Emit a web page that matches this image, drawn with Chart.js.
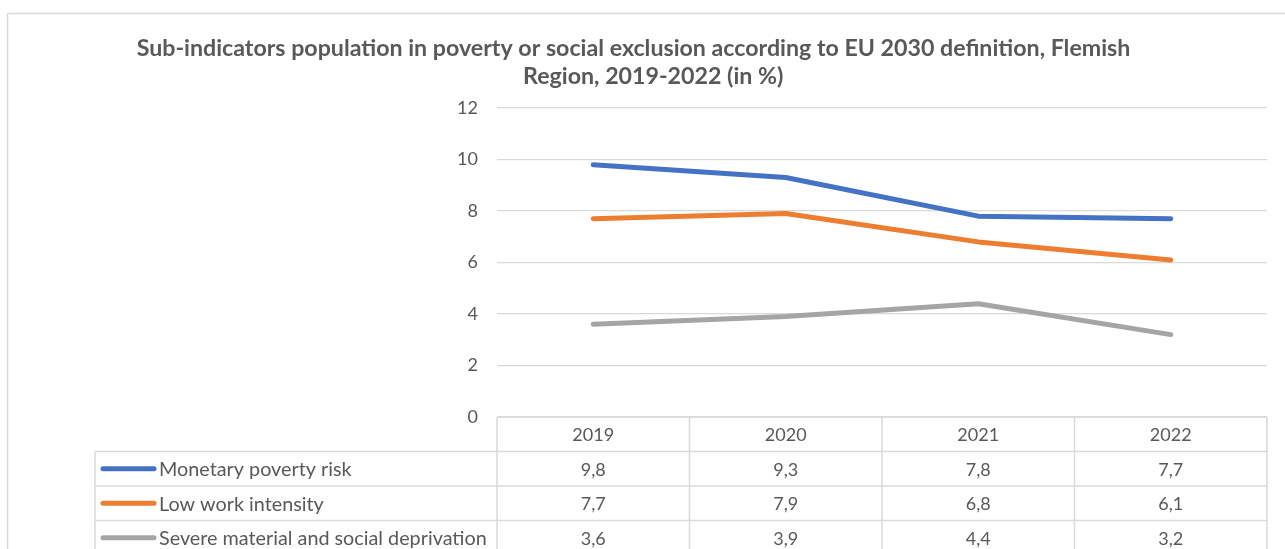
<!DOCTYPE html>
<html>
<head>
<meta charset="utf-8">
<script src="https://cdn.jsdelivr.net/npm/chart.js@4.4.1/dist/chart.umd.min.js"></script>
<style>
  html, body { margin: 0; padding: 0; background: #fff; }
  #wrap { width: 1285px; height: 549px; position: relative; }
</style>
</head>
<body>
<div id="wrap"><canvas id="chart"></canvas></div>
<script>
const years = ['2019', '2020', '2021', '2022'];
const monetaryPovertyRisk = [9.8, 9.3, 7.8, 7.7];
const lowWorkIntensity = [7.7, 7.9, 6.8, 6.1];
const severeDeprivation = [3.6, 3.9, 4.4, 3.2];
const seriesNames = ['Monetary poverty risk', 'Low work intensity', 'Severe material and social deprivation'];
const seriesColors = ['#4472C4', '#ED7D31', '#A5A5A5'];
const titleLines = [
  'Sub-indicators population in poverty or social exclusion according to EU 2030 definition, Flemish',
  '\u00a0\u00a0\u00a0\u00a0\u00a0\u00a0\u00a0Region, 2019-2022 (in %)'
];

const textColor = '#595959';
const lineColor = '#d9d9d9';
const fontFamily = 'Lato, "Open Sans", sans-serif';

function fmt(v) {
  return v.toFixed(1).replace('.', ',');
}

// outer frame of the chart object
const framePlugin = {
  id: 'frame',
  beforeDraw(chart) {
    const ctx = chart.ctx;
    ctx.save();
    ctx.strokeStyle = lineColor;
    ctx.lineWidth = 1.5;
    ctx.strokeRect(7.5, 13.5, chart.width + 20, chart.height + 20);
    ctx.restore();
  }
};

// data table under the plot, columns follow the x scale
const tablePlugin = {
  id: 'dataTable',
  afterDraw(chart) {
    const ctx = chart.ctx;
    const x = chart.scales.x;
    const area = chart.chartArea;
    const rowH = 34.5;
    const top = area.bottom;
    const tableLeft = 95;
    const bottom = chart.height + 5;
    const half = (x.getPixelForValue(1) - x.getPixelForValue(0)) / 2;

    ctx.save();
    ctx.strokeStyle = lineColor;
    ctx.lineWidth = 1.5;

    // horizontal lines
    ctx.beginPath();
    ctx.moveTo(area.left, top);
    ctx.lineTo(area.right, top);
    for (let r = 1; r <= chart.data.datasets.length; r++) {
      const y = top + rowH * r;
      ctx.moveTo(tableLeft, y);
      ctx.lineTo(area.right, y);
    }
    // vertical lines
    ctx.moveTo(tableLeft, top + rowH);
    ctx.lineTo(tableLeft, bottom);
    for (let i = 0; i < years.length; i++) {
      const cx = x.getPixelForValue(i) - half;
      ctx.moveTo(cx, top);
      ctx.lineTo(cx, bottom);
    }
    ctx.moveTo(area.right, top);
    ctx.lineTo(area.right, bottom);
    ctx.stroke();

    ctx.fillStyle = textColor;
    ctx.font = '18px ' + fontFamily;
    ctx.textBaseline = 'middle';
    ctx.textAlign = 'center';
    years.forEach((yr, i) => {
      ctx.fillText(yr, x.getPixelForValue(i), top + rowH / 2 + 1);
    });

    chart.data.datasets.forEach((ds, r) => {
      const cy = top + rowH * (r + 1) + rowH / 2 + 1;
      ctx.font = '18px ' + fontFamily;
      ds.data.forEach((v, i) => {
        ctx.textAlign = 'center';
        ctx.fillText(fmt(v), x.getPixelForValue(i), cy);
      });
      // legend key
      ctx.strokeStyle = ds.borderColor;
      ctx.lineWidth = 5;
      ctx.lineCap = 'round';
      ctx.beginPath();
      ctx.moveTo(103, cy - 1);
      ctx.lineTo(154, cy - 1);
      ctx.stroke();
      ctx.font = '19.8px ' + fontFamily;
      ctx.textAlign = 'left';
      ctx.fillText(ds.label, 159, cy);
    });
    ctx.restore();
  }
};

const allSeries = [monetaryPovertyRisk, lowWorkIntensity, severeDeprivation];

new Chart(document.getElementById('chart'), {
  type: 'line',
  data: {
    labels: years,
    datasets: allSeries.map((values, i) => ({
      label: seriesNames[i],
      data: values,
      borderColor: seriesColors[i],
      backgroundColor: seriesColors[i],
      borderWidth: 5,
      borderCapStyle: 'round',
      borderJoinStyle: 'round',
      pointRadius: 0,
      tension: 0
    }))
  },
  options: {
    responsive: true,
    maintainAspectRatio: false,
    animation: false,
    layout: { padding: { left: 0, right: 18, top: 0, bottom: 132 } },
    plugins: {
      legend: { display: false },
      tooltip: { enabled: false },
      title: {
        display: true,
        text: titleLines,
        color: textColor,
        font: { family: fontFamily, size: 23.2, weight: 'bold', lineHeight: 28 / 23.2 },
        padding: { top: 35, bottom: 17 }
      }
    },
    scales: {
      x: {
        display: false,
        offset: true
      },
      y: {
        min: 0,
        max: 12,
        afterFit(scale) { scale.width = 497; },
        ticks: {
          stepSize: 2,
          color: textColor,
          padding: 19,
          font: { family: fontFamily, size: 18 }
        },
        grid: { color: lineColor, lineWidth: 1.3, drawTicks: false },
        border: { display: false }
      }
    }
  },
  plugins: [framePlugin, tablePlugin]
});
</script>
</body>
</html>
